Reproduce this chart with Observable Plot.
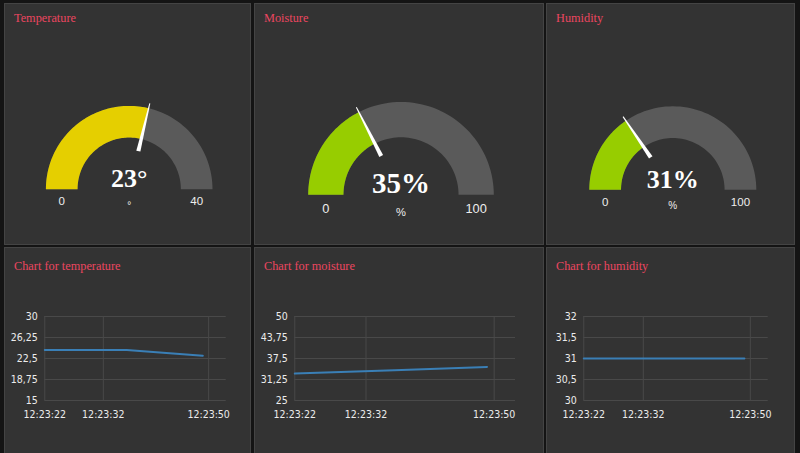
<!DOCTYPE html>
<html><head><meta charset="utf-8">
<script src="https://cdn.jsdelivr.net/npm/d3@7"></script>
<script src="https://cdn.jsdelivr.net/npm/@observablehq/plot@0.6"></script>
<style>
html,body{margin:0;padding:0;background:#141414;width:800px;height:453px;overflow:hidden;}
.panel{position:absolute;background:#333333;box-sizing:border-box;border:1px solid #444444;overflow:hidden;}
.title{position:absolute;left:9px;font-family:"Liberation Serif","Times New Roman",serif;font-size:12.3px;line-height:13px;color:#ec4660;white-space:nowrap;z-index:2;}
.panel svg{position:absolute;left:0;top:0;}
</style></head><body>
<script>
// ---- data ----
const gaugeTitles = ["Temperature", "Moisture", "Humidity"];
const gaugeValues = [23, 35, 31];
const gaugeMins = [0, 0, 0];
const gaugeMaxs = [40, 100, 100];
const gaugeUnits = ["°", "%", "%"];

const chartTitles = ["Chart for temperature", "Chart for moisture", "Chart for humidity"];
const tempTimes = ["12:23:22", "12:23:36", "12:23:49"];
const tempValues = [24, 24, 23];
const moistTimes = ["12:23:22", "12:23:36", "12:23:49"];
const moistValues = [33, 34, 35];
const humTimes = ["12:23:22", "12:23:36", "12:23:49"];
const humValues = [31, 31, 31];
const xTickLabels = ["12:23:22", "12:23:32", "12:23:50"];
const xDomainLabels = ["12:23:22", "12:23:53"];
const tempYTicks = [15, 18.75, 22.5, 26.25, 30];
const moistYTicks = [25, 31.25, 37.5, 43.75, 50];
const humYTicks = [30, 30.5, 31, 31.5, 32];

// ---- layout & style ----
const cols = [{left: 4, width: 247}, {left: 254, width: 290}, {left: 546, width: 249}];
const rows = [{top: 3, height: 242}, {top: 247, height: 215}];
const gaugeGeom = [{cx: 123.7, cy: 184.7, R: 83.3}, {cx: 145.5, cy: 190.3, R: 92.8}, {cx: 125.3, cy: 185.3, R: 83.5}];
const gaugeFill = ["#e5cf00", "#97cd00", "#97cd00"];
const chartMargins = [{l: 40.3, r: 25.3}, {l: 40.3, r: 29}, {l: 37.3, r: 27.3}];
const innerRatio = 0.62;

const parseT = d3.utcParse("%H:%M:%S");
const fmtT = d3.utcFormat("%H:%M:%S");
const fmtComma = d => String(d).replace(".", ",");

function makePanel(col, row, title) {
  const p = document.createElement("div");
  p.className = "panel";
  p.style.left = col.left + "px"; p.style.top = row.top + "px";
  p.style.width = col.width + "px"; p.style.height = row.height + "px";
  const t = document.createElement("div");
  t.className = "title"; t.textContent = title;
  p.appendChild(t);
  document.body.appendChild(p);
  return {p, t};
}

function arcPoints(f0, f1, rIn, n = 72) {
  const pts = [];
  for (let i = 0; i <= n; i++) { const a = Math.PI * (1 - (f0 + (f1 - f0) * i / n)); pts.push({x: Math.cos(a), y: Math.sin(a)}); }
  for (let i = n; i >= 0; i--) { const a = Math.PI * (1 - (f0 + (f1 - f0) * i / n)); pts.push({x: rIn * Math.cos(a), y: rIn * Math.sin(a)}); }
  return pts;
}

function needlePoints(f, R) {
  const a = Math.PI * (1 - f);
  const u = [Math.cos(a), Math.sin(a)], q = [-Math.sin(a), Math.cos(a)];
  const r0 = 0.47, r1 = 1.06, w0 = 2.1 / R, w1 = 0.5 / R;
  return [
    {x: r0 * u[0] + w0 * q[0], y: r0 * u[1] + w0 * q[1]},
    {x: r1 * u[0] + w1 * q[0], y: r1 * u[1] + w1 * q[1]},
    {x: r1 * u[0] - w1 * q[0], y: r1 * u[1] - w1 * q[1]},
    {x: r0 * u[0] - w0 * q[0], y: r0 * u[1] - w0 * q[1]}
  ];
}

// gauges
gaugeTitles.forEach((title, i) => {
  const col = cols[i], row = rows[0], g = gaugeGeom[i];
  const {p, t} = makePanel(col, row, title);
  t.style.top = "8px";
  const s = g.R / 83.3;
  const v = gaugeValues[i], mn = gaugeMins[i], mx = gaugeMaxs[i];
  const f = (v - mn) / (mx - mn);
  const ends = [{v: mn, f: 0}, {v: mx, f: 1}];
  const chart = Plot.plot({
    width: col.width - 2, height: row.height - 2, margin: 0,
    style: {background: "transparent", overflow: "visible"},
    x: {domain: [-1, 1], range: [g.cx - g.R, g.cx + g.R], axis: null},
    y: {domain: [0, 1], range: [g.cy, g.cy - g.R], axis: null},
    marks: [
      Plot.line(arcPoints(0, 1, innerRatio), {x: "x", y: "y", fill: "#5a5a5a", stroke: "none"}),
      Plot.line(arcPoints(0, f, innerRatio), {x: "x", y: "y", fill: gaugeFill[i], stroke: "none"}),
      Plot.line(needlePoints(f, g.R), {x: "x", y: "y", fill: "#ffffff", stroke: "none"}),
      Plot.text([v], {x: () => 0, y: () => 0, text: d => `${d}${gaugeUnits[i]}`, lineAnchor: "bottom", dy: -2 * s,
        fontFamily: "Liberation Serif, Times New Roman, serif", fontWeight: "bold", fontSize: 26 * s, fill: "#ffffff"}),
      Plot.text(ends, {x: d => Math.cos(Math.PI * (1 - d.f)) * (1 + innerRatio) / 2, y: () => 0, text: d => String(d.v),
        lineAnchor: "middle", dy: 12.5 * s, fontFamily: "Liberation Sans, Arial, sans-serif", fontSize: 11.5 * s, fill: "#eeeeee"}),
      Plot.text([gaugeUnits[i]], {x: () => 0, y: () => 0, text: d => d, lineAnchor: "middle",
        dy: (gaugeUnits[i] === "°" ? 17 : 16) * s, fontFamily: "Liberation Sans, Arial, sans-serif", fontSize: 10 * s, fill: "#eeeeee"})
    ]
  });
  p.appendChild(chart);
});

// line charts
const series = [
  {times: tempTimes, values: tempValues, yTicks: tempYTicks},
  {times: moistTimes, values: moistValues, yTicks: moistYTicks},
  {times: humTimes, values: humValues, yTicks: humYTicks}
];
const xTicks = xTickLabels.map(parseT);
const xDomain = xDomainLabels.map(parseT);
chartTitles.forEach((title, i) => {
  const col = cols[i], row = rows[1], m = chartMargins[i], sr = series[i];
  const {p, t} = makePanel(col, row, title);
  t.style.top = "12px";
  const data = sr.times.map((tt, k) => ({t: parseT(tt), v: sr.values[k]}));
  const chart = Plot.plot({
    width: col.width - 2, height: 200, marginTop: 68, marginBottom: 48, marginLeft: m.l - 1, marginRight: m.r - 1,
    style: {background: "transparent", color: "#ececec", fontFamily: "'Liberation Sans Narrow', 'DejaVu Sans Condensed', Arial, sans-serif", fontSize: "10.5px", overflow: "visible"},
    x: {type: "utc", domain: xDomain, label: null},
    y: {domain: [sr.yTicks[0], sr.yTicks[sr.yTicks.length - 1]], label: null},
    marks: [
      Plot.gridY(sr.yTicks, {stroke: "#494949", strokeOpacity: 1}),
      Plot.gridX(xTicks, {stroke: "#494949", strokeOpacity: 1}),
      Plot.axisY(sr.yTicks, {tickSize: 0, tickPadding: 7, tickFormat: fmtComma, label: null}),
      Plot.axisX(xTicks, {tickSize: 0, tickPadding: 10, tickFormat: fmtT, label: null}),
      Plot.line(data, {x: "t", y: "v", stroke: "#3a7fb6", strokeWidth: 2})
    ]
  });
  p.appendChild(chart);
});
</script>
</body></html>
